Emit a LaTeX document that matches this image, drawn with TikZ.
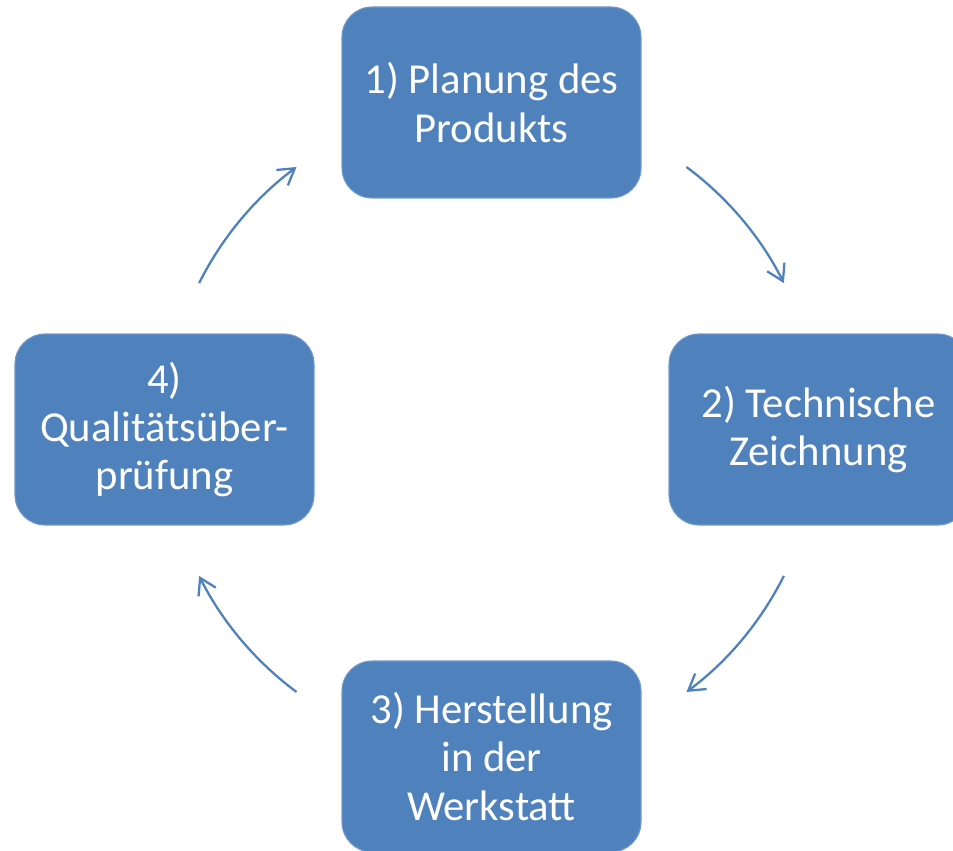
\documentclass[tikz,border=0pt]{standalone}
\usepackage{fontspec}
\setmainfont{Carlito}
\usepackage{tikz}
\usetikzlibrary{arrows.meta}
\definecolor{CycleBlue}{HTML}{4F81BD}

\begin{document}
\begin{tikzpicture}[
    font=\fontsize{24.3}{27.5}\selectfont,
    stepbox/.style = {
        rectangle, rounded corners=0.6cm,
        minimum width=5.98cm, minimum height=3.82cm,
        fill=CycleBlue, draw=CycleBlue!80!white, line width=0.6pt,
        text=white, align=center, inner sep=4pt
    },
    cyclearrow/.style = {-{Straight Barb[length=9pt, width=11pt]}, line width=1.3pt, color=CycleBlue}
]
\useasboundingbox (-9.83,-8.41) rectangle (9.23,8.59);

% ===== STEPS =====
\node[stepbox] (plan) at (90:6.54)  {1) Planung des\\Produkts};
\node[stepbox] (draw) at (0:6.54)   {2) Technische\\Zeichnung};
\node[stepbox] (make) at (-90:6.54) {3) Herstellung\\in der\\Werkstatt};
\node[stepbox] (check) at (180:6.54) {4)\\Qualitätsüber-\\prüfung};

% ===== ARROWS =====
\coordinate (planout)  at (53.4:6.54);
\coordinate (drawout)  at (-26.6:6.54);
\coordinate (makeout)  at (-126.6:6.54);
\coordinate (checkout) at (153.4:6.54);

\draw[cyclearrow] (planout)  arc[start angle=53.4,   end angle=26.6,   radius=6.54cm];
\draw[cyclearrow] (drawout)  arc[start angle=-26.6,  end angle=-53.4,  radius=6.54cm];
\draw[cyclearrow] (makeout)  arc[start angle=-126.6, end angle=-153.4, radius=6.54cm];
\draw[cyclearrow] (checkout) arc[start angle=153.4,  end angle=126.6,  radius=6.54cm];
\end{tikzpicture}
\end{document}
